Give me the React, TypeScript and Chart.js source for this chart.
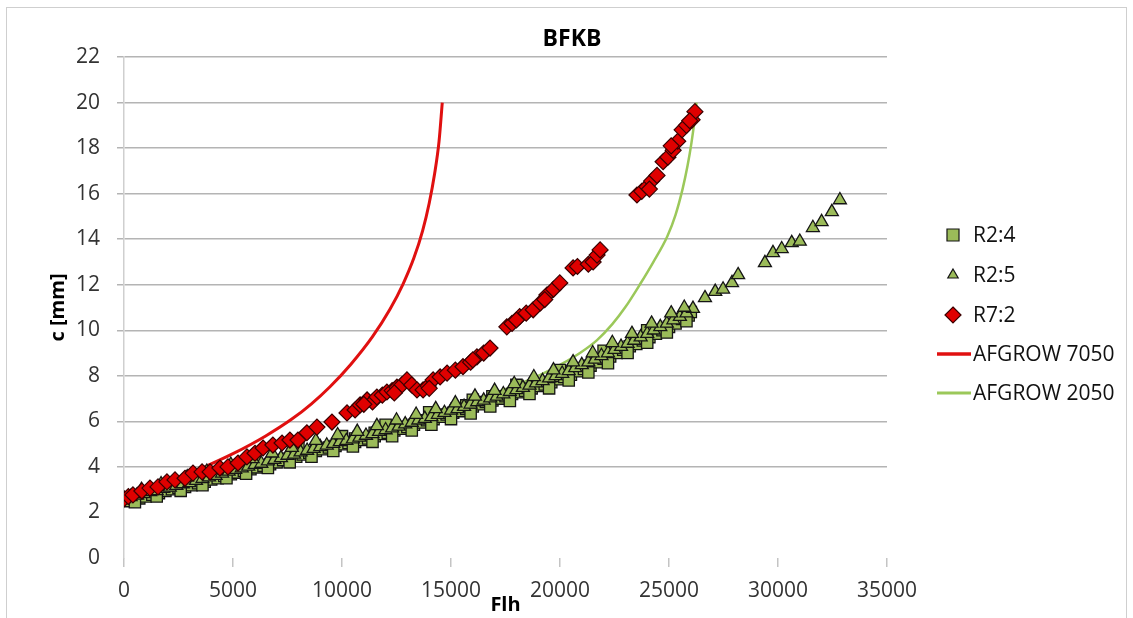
import { useEffect, useRef } from "react";
import { Chart, registerables } from "chart.js";

Chart.register(...registerables);

const FONT = "'Open Sans', 'DejaVu Sans', sans-serif";

const chartTitle = "BFKB";
const xTitle = "Flh";
const yTitle = "c [mm]";
const xTickValues = [0, 5000, 10000, 15000, 20000, 25000, 30000, 35000];
const yTickValues = [0, 2, 4, 6, 8, 10, 12, 14, 16, 18, 20, 22];
const seriesNames = ["R2:4", "R2:5", "R7:2", "AFGROW 7050", "AFGROW 2050"];

// R2:4 (squares): [Flh, c]
const r24: [number, number][] = [
  [0, 2.55], [200, 2.5], [450, 2.6], [700, 2.62], [1000, 2.7], [1300, 2.78], [1600, 2.85],
  [1900, 2.95], [2200, 3.02], [2500, 3.08], [2800, 3.12], [3100, 3.2], [3400, 3.28],
  [3700, 3.35], [4000, 3.45], [4300, 3.5], [4600, 3.6], [4900, 3.68], [5200, 3.75],
  [5500, 3.82], [5800, 3.9], [6100, 3.98], [6400, 4.05], [6700, 4.12], [7000, 4.2],
  [7300, 4.3], [7600, 4.38], [7900, 4.45], [8200, 4.55], [8500, 4.62], [8800, 4.7],
  [9100, 4.78], [9400, 4.85], [9700, 4.92], [10000, 5.0], [10300, 5.05], [10600, 5.1],
  [10600, 5.25], [10900, 5.18], [11200, 5.25], [11500, 5.35], [11500, 5.5], [11800, 5.45],
  [12100, 5.5], [12400, 5.6], [12700, 5.68], [13000, 5.75], [13300, 5.85], [13600, 5.95],
  [13900, 6.05], [14200, 6.1], [14500, 6.2], [14800, 6.3], [15100, 6.38], [15400, 6.45],
  [15700, 6.55], [15700, 6.7], [16000, 6.65], [16300, 6.75], [16600, 6.85], [16900, 6.92],
  [16900, 7.1], [17200, 7.0], [17500, 7.1], [17800, 7.2], [18100, 7.28], [18400, 7.35],
  [18700, 7.45], [19000, 7.55], [19300, 7.62], [19600, 7.72], [19900, 7.85], [19900, 8.0],
  [20200, 7.95], [20500, 8.05], [20800, 8.2], [21100, 8.3], [21400, 8.45], [21700, 8.6],
  [22000, 8.75], [22300, 8.85], [22600, 9.0], [22900, 9.15], [23200, 9.3], [23500, 9.4],
  [23800, 9.55], [24100, 9.7], [24400, 9.85], [24700, 10.0], [25000, 10.15], [25300, 10.3],
  [25600, 10.5], [25900, 10.65], [26000, 10.8],
  [500, 2.45], [1500, 2.7], [2600, 2.95], [3600, 3.2], [4700, 3.5], [5600, 3.7], [6600, 3.95],
  [7600, 4.2], [8600, 4.45], [9600, 4.7], [10500, 4.9], [11400, 5.1], [12300, 5.35],
  [13200, 5.6], [14100, 5.85], [15000, 6.1], [15900, 6.35], [16800, 6.65], [17700, 6.9],
  [18600, 7.2], [19500, 7.45], [20400, 7.8], [21300, 8.15], [22200, 8.55], [23100, 9.0],
  [24000, 9.45], [24900, 9.9], [25800, 10.4],
  [2000, 3.2], [4000, 3.7], [6000, 4.25], [8000, 4.85], [10000, 5.35], [12000, 5.85],
  [14000, 6.4], [16000, 6.95], [18000, 7.6], [20000, 8.25], [22000, 9.1], [24000, 10.0],
];

// R2:5 (triangles): [Flh, c]
const r25: [number, number][] = [
  [0, 2.6], [300, 2.68], [600, 2.75], [900, 2.82], [1200, 2.9], [1500, 2.95], [1800, 3.05],
  [2100, 3.1], [2400, 3.18], [2700, 3.25], [3000, 3.3], [3300, 3.4], [3600, 3.48],
  [3900, 3.55], [4200, 3.62], [4500, 3.72], [4800, 3.8], [5100, 3.88], [5400, 3.95],
  [5700, 4.02], [6000, 4.1], [6300, 4.15], [6600, 4.25], [6900, 4.32], [7200, 4.4],
  [7500, 4.5], [7800, 4.55], [8100, 4.65], [8400, 4.72], [8700, 4.8], [9000, 4.88],
  [9300, 4.95], [9600, 5.02], [9900, 5.1], [10200, 5.15], [10500, 5.22], [10800, 5.3],
  [11100, 5.38], [11400, 5.45], [11700, 5.55], [12000, 5.62], [12300, 5.7], [12600, 5.78],
  [12900, 5.88], [13200, 5.95], [13500, 6.05], [13800, 6.12], [14100, 6.2], [14400, 6.3],
  [14700, 6.38], [15000, 6.48], [15300, 6.55], [15600, 6.65], [15900, 6.75], [16200, 6.85],
  [16500, 6.92], [16800, 7.02], [17100, 7.1], [17400, 7.2], [17700, 7.3], [18000, 7.38],
  [18300, 7.48], [18600, 7.58], [18900, 7.68], [19200, 7.78], [19500, 7.9], [19800, 8.0],
  [20100, 8.1], [20400, 8.22], [20700, 8.35], [21000, 8.48], [21300, 8.6], [21600, 8.72],
  [21900, 8.88], [22200, 9.0], [22500, 9.15], [22800, 9.28], [23100, 9.42], [23400, 9.55],
  [23700, 9.7], [24000, 9.85], [24300, 10.0], [24600, 10.15], [24900, 10.3], [25200, 10.45],
  [25500, 10.6], [25800, 10.75], [26100, 10.95],
  [800, 3.0], [1700, 3.25], [2900, 3.55], [3800, 3.8], [4900, 4.1], [5900, 4.35], [6800, 4.6],
  [7700, 4.85], [8800, 5.15], [9800, 5.4], [10700, 5.55], [11600, 5.8], [12500, 6.05],
  [13400, 6.3], [14300, 6.55], [15200, 6.8], [16100, 7.1], [17000, 7.35], [17900, 7.65],
  [18800, 7.95], [19700, 8.25], [20600, 8.6], [21500, 9.0], [22400, 9.45], [23300, 9.85],
  [24200, 10.3], [25100, 10.75], [25700, 11.0],
  [26650, 11.42], [27120, 11.7], [27480, 11.8], [27890, 12.08], [28170, 12.43], [29400, 12.96],
  [29770, 13.4], [30170, 13.57], [30630, 13.84], [31000, 13.9], [31600, 14.5], [32000, 14.76],
  [32470, 15.2], [32840, 15.72],
];

// R7:2 (diamonds): [Flh, c]
const r72: [number, number][] = [
  [0, 2.6], [200, 2.7], [410, 2.77], [820, 2.94], [1190, 3.07], [1560, 3.12], [1970, 3.34],
  [2340, 3.43], [2800, 3.5], [3165, 3.73], [3580, 3.78], [3950, 3.78], [4400, 3.95],
  [4770, 4.0], [5230, 4.17], [5640, 4.44], [6010, 4.6], [6380, 4.83], [6830, 4.96],
  [7250, 5.05], [7610, 5.18], [7980, 5.18], [8390, 5.5], [8850, 5.75], [9540, 5.97],
  [10230, 6.37], [10600, 6.5], [10830, 6.72], [11150, 6.94], [11400, 6.85], [11600, 7.07],
  [11850, 7.15], [12060, 7.29], [12300, 7.35], [12520, 7.5], [12750, 7.6], [12980, 7.82],
  [13200, 7.6], [13440, 7.38], [13720, 7.38], [13950, 7.55], [14180, 7.82], [14500, 7.95],
  [14820, 8.12], [15200, 8.25], [15550, 8.4], [15900, 8.6], [16190, 8.83], [16500, 9.0],
  [16790, 9.22], [17560, 10.15], [17800, 10.3], [18150, 10.6], [18450, 10.75], [18770, 10.9],
  [19100, 11.2], [19400, 11.55], [19700, 11.8], [19990, 12.08], [20600, 12.74], [20800, 12.8],
  [21300, 12.9], [21520, 13.0], [21700, 13.3], [21840, 13.53], [23530, 15.94], [23750, 16.1],
  [23990, 16.3], [24200, 16.55], [24450, 16.8], [24730, 17.4], [24950, 17.6], [25190, 17.9],
  [25400, 18.3], [25600, 18.8], [25800, 19.0], [26060, 19.24], [26190, 19.6],
  [11000, 6.75], [12400, 7.25], [14000, 7.45], [16000, 8.7], [18000, 10.45], [19300, 11.35],
  [24100, 16.2], [25100, 18.1], [25950, 19.2],
];

// AFGROW 7050 curve: [Flh, c]
const afgrow7050: [number, number][] = [
  [0, 2.6], [1700, 3.16], [3350, 3.85], [5000, 4.58], [6500, 5.36], [7700, 6.1], [8600, 6.77],
  [9450, 7.52], [10400, 8.5], [11400, 9.72], [12200, 10.92], [12800, 12.03], [13300, 13.18],
  [13700, 14.38], [14000, 15.58], [14250, 16.88], [14450, 18.28], [14600, 20.0],
];

// AFGROW 2050 curve: [Flh, c]
const afgrow2050: [number, number][] = [
  [0, 2.6], [2000, 3.15], [4000, 3.6], [6000, 4.05], [8000, 4.55], [10000, 5.1],
  [12000, 5.65], [14000, 6.25], [16000, 6.9], [18000, 7.6], [19000, 8.0], [20000, 8.48],
  [21000, 9.06], [21700, 9.57], [22400, 10.27], [23000, 11.02], [23670, 12.02], [24300, 13.03],
  [24920, 14.12], [25300, 15.07], [25630, 16.23], [25850, 17.22], [26030, 18.23], [26160, 19.14],
  [26260, 20.0],
];

const toXY = (arr: [number, number][]) => arr.map(([x, y]) => ({ x, y }));

function drawMarker(ctx: CanvasRenderingContext2D, style: string, x: number, y: number, r: number, fill: string, stroke: string) {
  ctx.save();
  ctx.fillStyle = fill;
  ctx.strokeStyle = stroke;
  ctx.lineWidth = 1.2;
  ctx.beginPath();
  if (style === "rect") {
    const s = r * Math.SQRT1_2;
    ctx.rect(x - s, y - s, 2 * s, 2 * s);
  } else if (style === "triangle") {
    ctx.moveTo(x, y - r);
    ctx.lineTo(x + r * 0.866, y + r * 0.5);
    ctx.lineTo(x - r * 0.866, y + r * 0.5);
    ctx.closePath();
  } else {
    ctx.moveTo(x, y - r);
    ctx.lineTo(x + r, y);
    ctx.lineTo(x, y + r);
    ctx.lineTo(x - r, y);
    ctx.closePath();
  }
  ctx.fill();
  ctx.stroke();
  ctx.restore();
}

const sideLegend = {
  id: "sideLegend",
  afterDraw(chart: any, _args: any, opts: any) {
    const { ctx, chartArea } = chart;
    ctx.save();
    // chart title
    ctx.font = `bold ${opts.titleSize}px ${FONT}`;
    ctx.fillStyle = "#000";
    ctx.textAlign = "center";
    ctx.textBaseline = "middle";
    ctx.fillText(opts.title, opts.titleX, opts.titleY);
    // y-axis title
    ctx.save();
    ctx.translate(opts.yTitleX, (chartArea.top + chartArea.bottom) / 2);
    ctx.rotate(-Math.PI / 2);
    ctx.font = `bold ${opts.yTitleSize}px ${FONT}`;
    ctx.fillText(opts.yTitle, 0, 0);
    ctx.restore();
    // legend
    ctx.font = `${opts.fontSize}px ${FONT}`;
    ctx.textAlign = "left";
    chart.data.datasets.forEach((ds: any, i: number) => {
      const y = opts.rows[i];
      if (ds.showLine) {
        ctx.save();
        ctx.strokeStyle = ds.borderColor;
        ctx.lineWidth = ds.borderWidth + 0.5;
        ctx.beginPath();
        ctx.moveTo(opts.lineX0, y);
        ctx.lineTo(opts.lineX1, y);
        ctx.stroke();
        ctx.restore();
      } else {
        drawMarker(ctx, ds.pointStyle, opts.markerX, y, opts.markerR[i], ds.pointBackgroundColor, ds.pointBorderColor);
      }
      ctx.fillStyle = "#111";
      ctx.fillText(ds.label, opts.textX, y + 1);
    });
    ctx.restore();
  },
};

export default function App() {
  const ref = useRef<HTMLCanvasElement | null>(null);

  useEffect(() => {
    document.body.style.margin = "0";
    document.body.style.overflow = "hidden";
    const canvas = ref.current;
    if (!canvas) return;
    const chart = new Chart(canvas, {
      type: "scatter",
      data: {
        datasets: [
          {
            label: seriesNames[0],
            data: toXY(r24),
            pointStyle: "rect",
            pointRadius: 8,
            pointBackgroundColor: "#9BBB59",
            pointBorderColor: "#151515",
            pointBorderWidth: 1.3,
            order: 4,
          },
          {
            label: seriesNames[1],
            data: toXY(r25),
            pointStyle: "triangle",
            pointRadius: 7.5,
            pointBackgroundColor: "#9BBB59",
            pointBorderColor: "#151515",
            pointBorderWidth: 1.3,
            order: 3,
          },
          {
            label: seriesNames[2],
            data: toXY(r72),
            pointStyle: "rectRot",
            pointRadius: 8,
            pointBackgroundColor: "#E00000",
            pointBorderColor: "#3a0000",
            pointBorderWidth: 1.2,
            order: 2,
          },
          {
            label: seriesNames[3],
            data: toXY(afgrow7050),
            showLine: true,
            pointRadius: 0,
            borderColor: "#E01010",
            borderWidth: 3,
            cubicInterpolationMode: "monotone",
            order: 6,
          },
          {
            label: seriesNames[4],
            data: toXY(afgrow2050),
            showLine: true,
            pointRadius: 0,
            borderColor: "#9BC85A",
            borderWidth: 2.5,
            cubicInterpolationMode: "monotone",
            order: 5,
          },
        ] as any,
      },
      options: {
        animation: false,
        responsive: false,
        maintainAspectRatio: false,
        layout: { padding: { left: 0, right: 246, top: 57, bottom: 0 } },
        plugins: {
          legend: { display: false },
          tooltip: { enabled: false },
          title: { display: false },
          sideLegend: {
            title: chartTitle,
            titleX: 572,
            titleY: 39,
            titleSize: 23,
            yTitle: yTitle,
            yTitleX: 58,
            yTitleSize: 20,
            rows: [235, 275, 315, 354, 393],
            markerX: 953,
            markerR: [8.5, 6, 8],
            lineX0: 937,
            lineX1: 971,
            textX: 973,
            fontSize: 21,
          },
        } as any,
        scales: {
          x: {
            type: "linear",
            min: xTickValues[0],
            max: xTickValues[xTickValues.length - 1],
            afterBuildTicks: (s: any) => {
              s.ticks = xTickValues.map((v) => ({ value: v }));
            },
            afterFit: (s: any) => {
              s.height = 60;
            },
            border: { display: false },
            grid: {
              drawOnChartArea: false,
              drawTicks: true,
              tickLength: 9,
              color: "#c4c4c4",
              lineWidth: 1.5,
            },
            ticks: {
              padding: 11,
              color: "#333",
              font: { family: FONT, size: 21 },
              maxRotation: 0,
              autoSkip: false,
              callback: (v: any) => String(v),
            },
            title: {
              display: true,
              text: xTitle,
              color: "#000",
              font: { family: FONT, size: 20, weight: "bold", lineHeight: 1.2 },
              padding: { top: 0, bottom: 1 },
            },
          },
          y: {
            type: "linear",
            min: yTickValues[0],
            max: yTickValues[yTickValues.length - 1],
            afterBuildTicks: (s: any) => {
              s.ticks = yTickValues.map((v) => ({ value: v }));
            },
            afterFit: (s: any) => {
              s.width = 124;
            },
            border: { display: true, color: "#cfcfcf", width: 1.5 },
            grid: {
              drawTicks: true,
              tickLength: 7,
              lineWidth: 1.5,
              color: (c: any) => (c.tick && c.tick.value <= 2 ? "rgba(0,0,0,0)" : "#b4b4b4"),
            },
            ticks: {
              padding: 17,
              color: "#333",
              font: { family: FONT, size: 21 },
              autoSkip: false,
              callback: (v: any) => String(v),
            },
            title: { display: false },
          },
        },
      },
      plugins: [sideLegend as any],
    });
    return () => chart.destroy();
  }, []);

  return (
    <div style={{ position: "relative", width: 1133, height: 618, background: "#fff" }}>
      <canvas ref={ref} width={1133} height={618} style={{ display: "block", width: 1133, height: 618 }} />
      <div
        style={{
          position: "absolute",
          left: 6,
          top: 7,
          width: 1121,
          height: 611,
          boxSizing: "border-box",
          border: "1px solid #cfcfcf",
          borderBottom: "none",
          pointerEvents: "none",
        }}
      />
    </div>
  );
}
